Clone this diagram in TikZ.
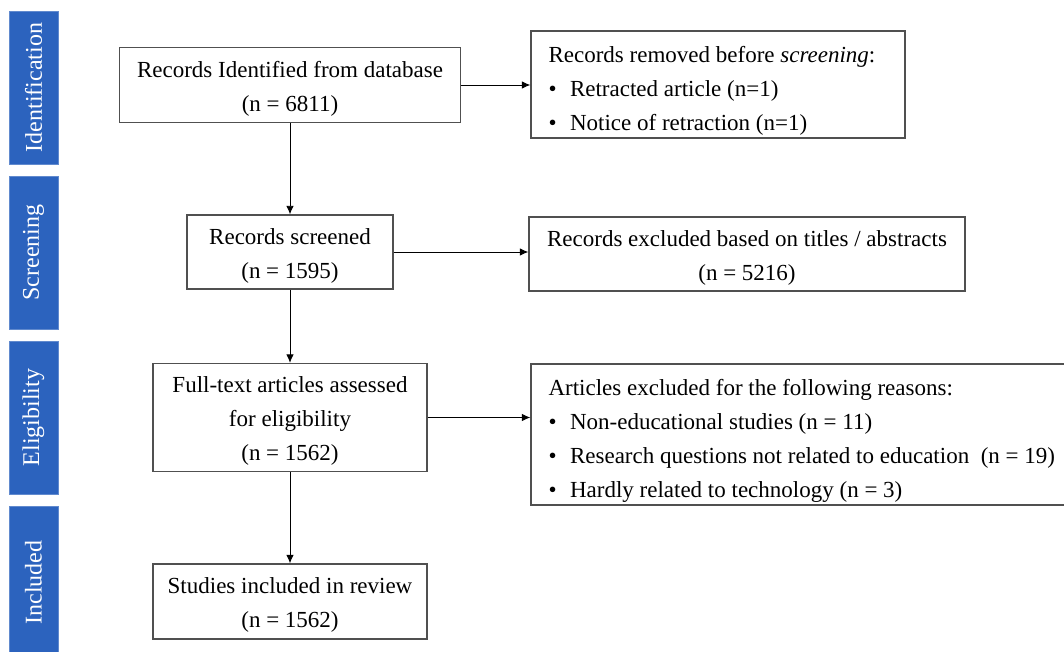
\documentclass[tikz,border=0pt]{standalone}
\usepackage{fontspec}
\setmainfont{Liberation Serif}
\usetikzlibrary{arrows.meta}
\definecolor{barblue}{RGB}{44,99,190}
\definecolor{edgegray}{RGB}{80,80,80}
\newcommand{\tstrut}{\rule{0pt}{23.5pt}}
\newcommand{\bitem}{\makebox[21.5pt][l]{\textbullet}}
\begin{document}
\begin{tikzpicture}[x=1pt,y=-1pt,
  box/.style={draw=edgegray, line width=1.3pt, inner sep=0pt,
    font=\fontsize{23}{34}\selectfont, align=center},
  ltext/.style={inner sep=0pt, anchor=west, font=\fontsize{23}{34}\selectfont, align=left},
  phase/.style={fill=barblue, draw=barblue!75!white, line width=0.8pt,
    minimum width=49pt, minimum height=153pt, inner sep=0pt},
  phasetext/.style={text=white, rotate=90, font=\fontsize{24}{28}\selectfont, inner sep=0pt},
  arr/.style={line width=0.9pt, draw=black, -{Latex[length=8.5pt,width=7.5pt]}}]
\useasboundingbox (0,0) rectangle (1064,652);
\clip (0,0) rectangle (1064,652);
\fill[white] (0,0) rectangle (1064,652);

% phase bars
\node[phase] (p1) at (33.5,87.5) {};
\node[phasetext] (t1) at (p1.center) {Identification};
\node[phase] (p2) at (33.5,252.5) {};
\node[phasetext] (t2) at (p2.center) {Screening};
\node[phase] (p3) at (33.5,417.5) {};
\node[phasetext] (t3) at (p3.center) {Eligibility};
\node[phase] (p4) at (33.5,582.5) {};
\node[phasetext] (t4) at (p4.center) {Included};

% main column
\node[box, minimum width=341pt, minimum height=75pt] (b1) at (290,85)
  {\tstrut Records Identified from database\\(n = 6811)};
\node[box, minimum width=206pt, minimum height=74pt] (b2) at (290,252)
  {\tstrut Records screened\\(n = 1595)};
\node[box, minimum width=274pt, minimum height=108pt] (b3) at (290,417.5)
  {\tstrut Full-text articles assessed\\for eligibility\\(n = 1562)};
\node[box, minimum width=274pt, minimum height=75pt] (b4) at (290,601.5)
  {\tstrut Studies included in review\\(n = 1562)};

% side boxes
\node[box, minimum width=374pt, minimum height=107pt] (rem) at (718,84.5) {};
\node[ltext] (remt) at ([xshift=18pt,yshift=-2.5pt]rem.west)
  {\tstrut Records removed before \textit{screening}:\\
   \bitem Retracted article (n=1)\\
   \bitem Notice of retraction (n=1)};
\node[box, minimum width=436pt, minimum height=74pt] (tit) at (747,254)
  {\tstrut Records excluded based on titles / abstracts\\(n = 5216)};
\node[box, minimum width=559pt, minimum height=141pt] (art) at (810.5,434.5) {};
\node[ltext] (artt) at ([xshift=18pt,yshift=-2.5pt]art.west)
  {\tstrut Articles excluded for the following reasons:\\
   \bitem Non-educational studies (n = 11)\\
   \bitem Research questions not related to education\ \ (n = 19)\\
   \bitem Hardly related to technology (n = 3)};

% connectors
\draw[arr] (b1.south) -- (b2.north);
\draw[arr] (b2.south) -- (b3.north);
\draw[arr] (b3.south) -- (b4.north);
\draw[arr] (b1.east) -- (b1.east -| rem.west);
\draw[arr] (b2.east) -- (b2.east -| tit.west);
\draw[arr] (b3.east) -- (b3.east -| art.west);
\end{tikzpicture}
\end{document}
